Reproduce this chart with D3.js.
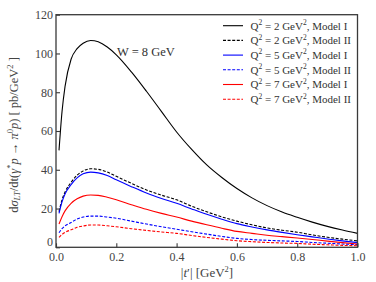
<!DOCTYPE html>
<html><head><meta charset="utf-8">
<script src="https://cdn.jsdelivr.net/npm/d3@7"></script>
<style>body{margin:0;background:#fff}svg{display:block}text{font-family:"Liberation Serif","Times New Roman",serif}</style>
</head><body>
<svg id="c" width="376" height="282"></svg>
<script>
const tVals = [0.01,0.02,0.03,0.05,0.07,0.09,0.115,0.14,0.17,0.2,0.25,0.3,0.35,0.4,0.45,0.5,0.55,0.6,0.65,0.7,0.75,0.8,0.85,0.9,0.95,1.0];
const q2ModelI  = [50,70,83,97,102.5,105.3,106.7,106,103.3,99.3,90.5,80.5,70,59.5,50.5,42.5,36,30.3,25.5,21.5,18.2,15.5,13,10.8,8.9,7.2];
const q2ModelII = [18.4,24.5,28.5,33.5,37.2,39.4,40.5,40.2,38.8,36.6,33,29.6,26.9,24.5,21.2,18.3,15.7,13.5,11.6,10,8.8,7.8,6.4,5.2,4.2,3.3];
const q5ModelI  = [17.5,23.5,27.5,32.3,35.8,37.9,38.8,38.4,37,34.8,31.3,28,25.2,22.7,19.8,17,14.5,12.2,10.5,9,7.7,6.5,5.4,4.3,3.3,2.4];
const q5ModelII = [7.5,9.6,11,12.8,14.6,15.6,16.1,16.1,15.6,15,13.5,12,10.6,9.3,8,6.8,5.6,4.6,4,3.6,3.3,3,2.5,2.1,1.7,1.4];
const q7ModelI  = [12,15.8,18.8,22.7,25,26.4,27,26.8,25.8,24.5,22,19.6,17.5,15.6,13.5,11.6,9.8,8.2,7.2,6.2,5.5,4.8,4,3.2,2.4,1.7];
const q7ModelII = [5.1,6.6,7.7,9,10.3,11,11.5,11.5,11.1,10.6,9.6,8.7,7.9,7.2,6.1,5.1,4.2,3.4,2.9,2.5,2.2,2,1.6,1.3,1,0.8];
const seriesNames = ["Q2 = 2, Model I","Q2 = 2, Model II","Q2 = 5, Model I","Q2 = 5, Model II","Q2 = 7, Model I","Q2 = 7, Model II"];
const q2Labels = ["2","2","5","5","7","7"];
const modelLabels = ["Model I","Model II","Model I","Model II","Model I","Model II"];
const seriesColors = ["#000000","#000000","#0000ff","#0000ff","#ff0000","#ff0000"];
const seriesDashed = [false,true,false,true,false,true];
const xTicks = [0,0.2,0.4,0.6,0.8,1.0];
const yTicks = [0,20,40,60,80,100,120];
const allSeries = [q2ModelI,q2ModelII,q5ModelI,q5ModelII,q7ModelI,q7ModelII];

const svg = d3.select("#c");
const m = {l:56, r:18.5, t:14.7, b:34.7};
const W = 376, H = 282;
const x = d3.scaleLinear().domain([0,1]).range([m.l, W-m.r]);
const y = d3.scaleLinear().domain([0,120]).range([H-m.b, m.t]);

const axColor = "#3a3a3a";
const line = d3.line().x(d=>x(d[0])).y(d=>y(d[1])).curve(d3.curveMonotoneX);
const plot = svg.append("g");
allSeries.forEach((vals,i)=>{
  plot.append("path").datum(tVals.map((t,j)=>[t,vals[j]]))
    .attr("d",line).attr("fill","none").attr("stroke",seriesColors[i])
    .attr("stroke-width",1.1).attr("stroke-dasharray",seriesDashed[i]?"3,1.6":null);
});

svg.append("rect").attr("x",x(0)).attr("y",y(120)).attr("width",x(1)-x(0)).attr("height",y(0)-y(120))
  .attr("fill","none").attr("stroke",axColor).attr("stroke-width",1.3);

const xa = svg.append("g").attr("transform",`translate(0,${y(0)})`)
  .call(d3.axisBottom(x).tickValues(xTicks).tickFormat(d3.format(".1f")).tickSizeInner(-4).tickSizeOuter(0).tickPadding(5));
const ya = svg.append("g").attr("transform",`translate(${x(0)},0)`)
  .call(d3.axisLeft(y).tickValues(yTicks).tickFormat(d3.format("d")).tickSizeInner(-4).tickSizeOuter(0).tickPadding(3));
[xa,ya].forEach(a=>{
  a.select(".domain").remove();
  a.selectAll(".tick line").attr("stroke",axColor).attr("stroke-width",1.1);
  a.selectAll(".tick text").attr("fill","#444").style("font-size","12px").style("font-family","'Liberation Serif',serif");
});
ya.selectAll(".tick text").filter(d=>d===0).attr("dy","-0.15em");

svg.append("text").attr("x",117).attr("y",56).attr("fill","#333").style("font-size","12.5px").text("W = 8 GeV");

const lg = svg.append("g");
seriesNames.forEach((n,i)=>{
  const yy = 25.7 + i*14.7;
  lg.append("line").attr("x1",223).attr("x2",243).attr("y1",yy).attr("y2",yy)
    .attr("stroke",seriesColors[i]).attr("stroke-width",1.1).attr("stroke-dasharray",seriesDashed[i]?"3,1.6":null);
  const t = lg.append("text").attr("x",250.5).attr("y",yy+3.8).attr("fill","#333").style("font-size","11px");
  t.append("tspan").text("Q");
  t.append("tspan").attr("dy",-4.5).style("font-size","7.5px").text("2");
  t.append("tspan").attr("dy",4.5).text(` = ${q2Labels[i]} GeV`);
  t.append("tspan").attr("dy",-4.5).style("font-size","7.5px").text("2");
  t.append("tspan").attr("dy",4.5).text(`, ${modelLabels[i]}`);
});

const xl = svg.append("text").attr("x",207).attr("y",277).attr("text-anchor","middle").attr("fill","#444").style("font-size","13px");
xl.append("tspan").text("|");
xl.append("tspan").style("font-style","italic").text("t");
xl.append("tspan").text("′|  [GeV");
xl.append("tspan").attr("dy",-5).style("font-size","8.5px").text("2");
xl.append("tspan").attr("dy",5).text("]");

const yl = svg.append("text").attr("transform",`translate(17.5,${(y(0)+y(120))/2+4}) rotate(-90)`)
  .attr("text-anchor","middle").attr("fill","#444").style("font-size","12.5px");
yl.append("tspan").text("d");
yl.append("tspan").style("font-style","italic").text("σ");
yl.append("tspan").attr("dy",2.5).style("font-size","8.5px").style("font-style","italic").text("LT");
yl.append("tspan").attr("dy",-2.5).text("/dt(");
yl.append("tspan").style("font-style","italic").text("γ");
yl.append("tspan").attr("dy",-4.5).style("font-size","8.5px").text("*");
yl.append("tspan").attr("dy",4.5).style("font-style","italic").text("p");
yl.append("tspan").text(" → ");
yl.append("tspan").style("font-style","italic").text("π");
yl.append("tspan").attr("dy",-4.5).style("font-size","8.5px").text("0");
yl.append("tspan").attr("dy",4.5).style("font-style","italic").text("p");
yl.append("tspan").text(")  [ pb/GeV");
yl.append("tspan").attr("dy",-4.5).style("font-size","8.5px").text("2");
yl.append("tspan").attr("dy",4.5).text(" ]");
</script>
</body></html>
